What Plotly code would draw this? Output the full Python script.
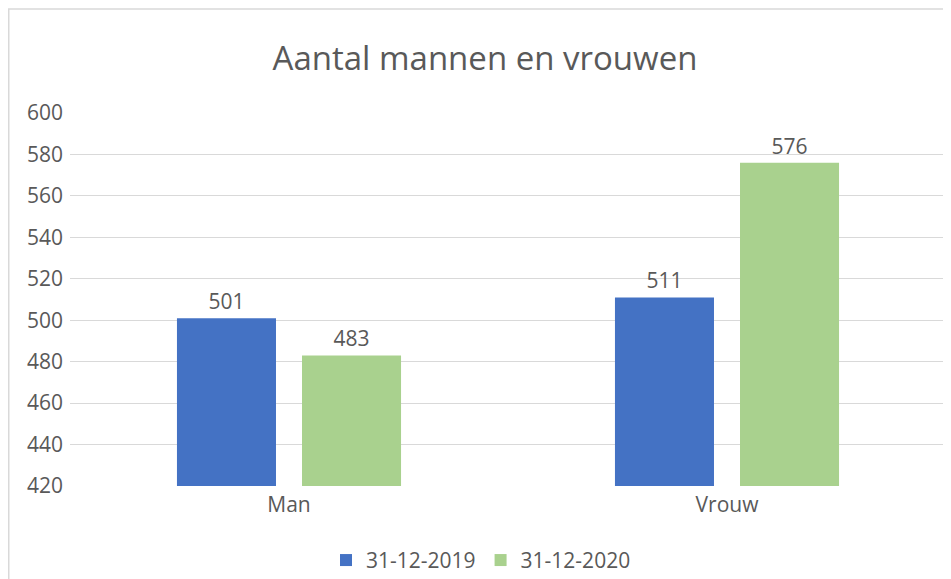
import plotly.graph_objects as go

categories = ["Man", "Vrouw"]
series_names = ["31-12-2019", "31-12-2020"]
values_2019 = [501, 511]
values_2020 = [483, 576]
colors = ["#4472C4", "#A9D18E"]
title_text = "Aantal mannen en vrouwen"

FONT = "Open Sans"
TXT = "#595959"
GRID = "#D9D9D9"

# page body has an 8px margin; figure is laid out relative to (8, 8)
W, H = 943, 571
L, R, T, B = 62, 5, 105, 92.5
PW, PH = W - L - R, H - T - B

fig = go.Figure()
for name, vals, col in zip(series_names, [values_2019, values_2020], colors):
    fig.add_trace(go.Bar(
        x=categories, y=vals, name=name,
        marker=dict(color=col, line=dict(width=0)),
        text=[str(v) for v in vals], textposition="outside",
        textfont=dict(family=FONT, size=21, color=TXT),
        cliponaxis=False,
    ))

fig.update_layout(
    width=W, height=H,
    margin=dict(l=L, r=R, t=T, b=B, autoexpand=False),
    paper_bgcolor="white", plot_bgcolor="white",
    barmode="group", bargap=0.429, bargroupgap=0.208,
    title=dict(text=title_text, x=477/W, xanchor="center", y=1-50/H, yanchor="middle",
               font=dict(family=FONT, size=33, color=TXT)),
    font=dict(family=FONT, size=21, color=TXT),
    showlegend=True,
    legend=dict(orientation="h", x=(473-L)/PW, xanchor="center", y=-(553-(H-B))/PH, yanchor="middle",
                font=dict(family=FONT, size=21, color=TXT), itemwidth=30,
                bgcolor="rgba(0,0,0,0)"),
    xaxis=dict(showgrid=False, showline=False, zeroline=False, ticks="", automargin=False,
               ticklabelstandoff=4,
               tickfont=dict(family=FONT, size=21, color=TXT)),
    yaxis=dict(range=[420, 600], dtick=20, tick0=420, showgrid=True, gridcolor=GRID, gridwidth=1.3,
               zeroline=False, showline=False, ticks="", automargin=False, ticklabelstandoff=6,
               tickfont=dict(family=FONT, size=21, color=TXT)),
)
fig.add_shape(type="rect", xref="paper", yref="paper",
              x0=(0.75-L)/PW, x1=(940-L)/PW, y0=-0.35, y1=1+(T-0.75)/PH,
              line=dict(color=GRID, width=1.5), fillcolor="rgba(0,0,0,0)", layer="below")

fig.write_html("out.html")
